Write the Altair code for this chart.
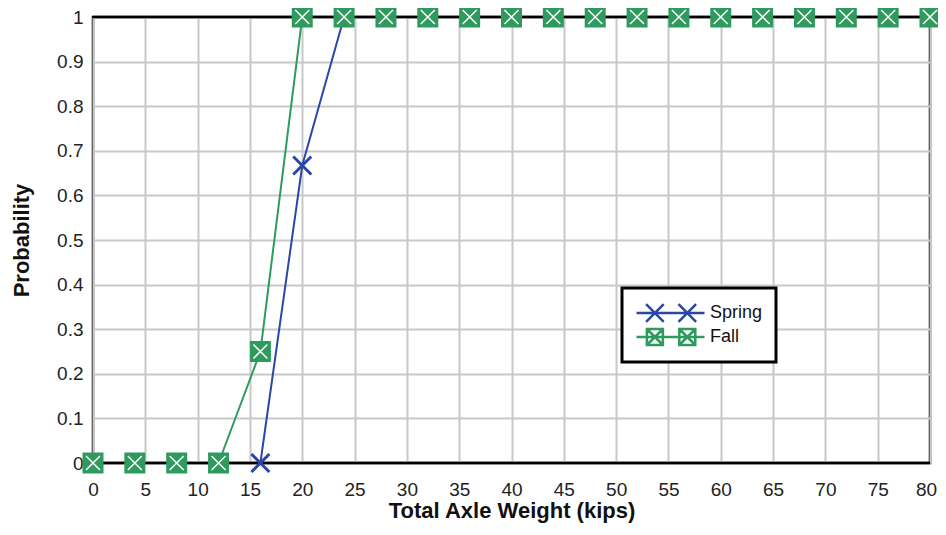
import altair as alt
import pandas as pd

# ---- data ----
weights = [0, 4, 8, 12, 16, 20, 24, 28, 32, 36, 40, 44, 48, 52, 56, 60, 64, 68, 72, 76, 80]
spring = [0, 0, 0, 0, 0, 0.667, 1, 1, 1, 1, 1, 1, 1, 1, 1, 1, 1, 1, 1, 1, 1]
fall = [0, 0, 0, 0, 0.25, 1, 1, 1, 1, 1, 1, 1, 1, 1, 1, 1, 1, 1, 1, 1, 1]
series_names = ["Spring", "Fall"]
x_ticks = list(range(0, 81, 5))
y_ticks = [0, 0.1, 0.2, 0.3, 0.4, 0.5, 0.6, 0.7, 0.8, 0.9, 1]
borders = [0, 1]

BLUE = "#2B47A6"
GREEN = "#2E9A5E"
FONT = "Liberation Sans"

rows = []
for w, s, f in zip(weights, spring, fall):
    rows.append({"x": w, "p": s, "series": "Spring"})
    rows.append({"x": w, "p": f, "series": "Fall"})
df = pd.DataFrame(rows)

X_PATH = "M-1,-1L1,1M-1,1L1,-1"
SPRING_LEG = ("M-1,0H7.5"
              "M0.2,-1.1L2.4,1.1M0.2,1.1L2.4,-1.1"
              "M4.25,-1.1L6.45,1.1M4.25,1.1L6.45,-1.1")
FALL_LEG = ("M-1,0H7.5"
            "M0.3,-1H2.3V1H0.3Z M0.3,-1L2.3,1M0.3,1L2.3,-1"
            "M4.35,-1H6.35V1H4.35Z M4.35,-1L6.35,1M4.35,1L6.35,-1")

xenc = alt.X("x:Q", scale=alt.Scale(domain=[0, 80], nice=False),
             axis=alt.Axis(values=x_ticks, title="Total Axle Weight (kips)",
                           labelPadding=17, titlePadding=1, labelFlush=False,
                           labelOffset=alt.condition("datum.value == 80", alt.value(-4), alt.value(0))))
yenc = alt.Y("p:Q", scale=alt.Scale(domain=[0, 1], nice=False),
             axis=alt.Axis(values=y_ticks, format="~g", title="Probability",
                           labelPadding=10, titlePadding=23, labelFlush=False))

base = alt.Chart(df)

spring_line = base.transform_filter(alt.datum.series == "Spring").mark_line(
    color=BLUE, strokeWidth=2).encode(x=xenc, y=yenc)
fall_line = base.transform_filter(alt.datum.series == "Fall").mark_line(
    color=GREEN, strokeWidth=2).encode(x=xenc, y=yenc)

rules = alt.Chart(pd.DataFrame({"p": borders})).mark_rule(
    color="black", strokeWidth=2.5).encode(y=yenc)

spring_pts = base.transform_filter(alt.datum.series == "Spring").mark_point(
    shape=X_PATH, filled=False, color=BLUE, strokeWidth=3, size=324, opacity=1
).encode(x=xenc, y=yenc)
fall_sq = base.transform_filter(alt.datum.series == "Fall").mark_point(
    shape="square", filled=True, color=GREEN, size=441, opacity=1
).encode(x=xenc, y=yenc)
fall_x = base.transform_filter(alt.datum.series == "Fall").mark_point(
    shape=X_PATH, filled=False, color="white", strokeWidth=1.5, size=196, opacity=1
).encode(x=xenc, y=yenc)

leg = alt.Legend(title=None, orient="none", legendX=529, legendY=271,
                 strokeColor="black", fillColor="white", padding=13,
                 rowPadding=0, clipHeight=24, symbolSize=256, symbolStrokeWidth=2.5,
                 labelOffset=56, labelFontSize=18, labelFont=FONT,
                 labelColor="#111111")
legend_layer = base.transform_filter(alt.datum.x < 0).mark_point(
    filled=False, strokeWidth=2.5, size=256, opacity=1
).encode(
    x=xenc, y=yenc,
    color=alt.Color("series:N", scale=alt.Scale(domain=series_names, range=[BLUE, GREEN]), legend=leg),
    shape=alt.Shape("series:N", scale=alt.Scale(domain=series_names, range=[SPRING_LEG, FALL_LEG]), legend=leg),
)

chart = alt.layer(
    spring_line, fall_line, rules, spring_pts, fall_sq, fall_x, legend_layer
).properties(
    width=837, height=446,
    autosize=alt.AutoSizeParams(type="none"),
    padding={"left": 85, "top": 9, "right": 8, "bottom": 64},
).configure_view(
    stroke="black", strokeWidth=2.5
).configure_axis(
    domain=False, ticks=False, grid=True, gridColor="#c8c8c8", gridWidth=2,
    labelFont=FONT, labelFontSize=19, labelColor="#222222",
    titleFont=FONT, titleFontSize=22, titleFontWeight="bold", titleColor="#111111",
).configure_legend(
    strokeWidth=3
)

chart.save("out.html", embed_options={"renderer": "svg", "actions": False})
